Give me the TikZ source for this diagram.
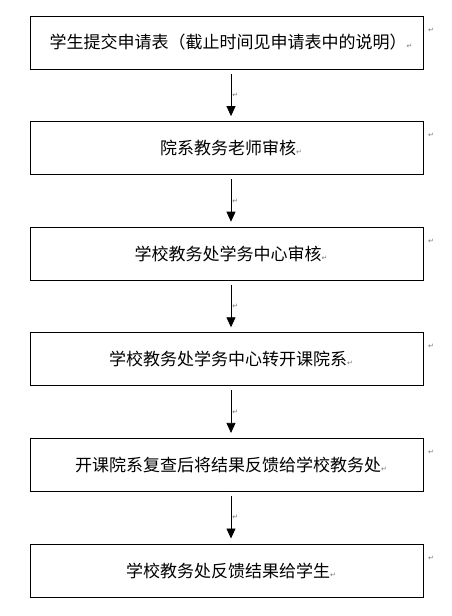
\documentclass[tikz,border=0pt]{standalone}
\usepackage{fontspec}
\newfontfamily\cjk{Noto Sans CJK SC}
\newfontfamily\symf{DejaVu Sans}
\usetikzlibrary{arrows.meta}
\definecolor{markgray}{RGB}{120,120,120}
\newcommand{\pmark}{{\symf\fontsize{7}{7}\selectfont\textcolor{markgray}{↵}}}
\tikzset{
  stepbox/.style={draw=black, line width=1pt, minimum width=393.4pt, minimum height=53pt,
    inner sep=0pt, font=\cjk\fontsize{17}{20}\selectfont},
  flowarrow/.style={draw=black, line width=0.8pt, -{Triangle[width=9pt,length=10pt]},
    shorten <=4pt, shorten >=5pt},
  markout/.style={inner sep=0pt, font=\symf\fontsize{7}{7}\selectfont, text=markgray},
}
\begin{document}
\begin{tikzpicture}[x=1pt,y=-1pt]
\useasboundingbox (0,0) rectangle (452,616);
\foreach \i/\t in {1/{学生提交申请表（截止时间见申请表中的说明）},
                   2/{院系教务老师审核},
                   3/{学校教务处学务中心审核},
                   4/{学校教务处学务中心转开课院系},
                   5/{开课院系复查后将结果反馈给学校教务处},
                   6/{学校教务处反馈结果给学生}} {
  \pgfmathsetmacro{\top}{16+105.6*(\i-1)}
  \node[stepbox] (b\i) at (227,\top+26.5) {\hspace*{8pt}\t\pmark};
  \node[markout] (m\i) at (431,\top+14) {↵};
}
\foreach \a/\b in {1/2,2/3,3/4,4/5,5/6} {
  \draw[flowarrow] ([xshift=4pt]b\a.south) -- ([xshift=4pt]b\b.north)
    node[midway, right=1pt, markout] (am\a) {↵};
}
\end{tikzpicture}
\end{document}
